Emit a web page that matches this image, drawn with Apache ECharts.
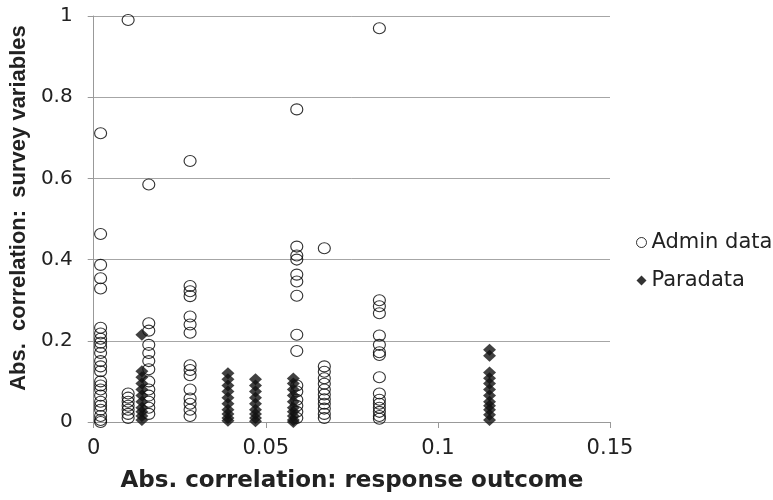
<!DOCTYPE html>
<html>
<head>
<meta charset="utf-8">
<script src="https://cdn.jsdelivr.net/npm/echarts@6/dist/echarts.min.js"></script>
<style>
  html, body { margin: 0; padding: 0; background: #fff; }
  #chart { width: 773px; height: 500px; }
</style>
</head>
<body>
<div id="chart"></div>
<script>
// x positions of the columns and the y values in each column
const adminX = [0.002, 0.010, 0.016, 0.028, 0.059, 0.067, 0.083];
const adminY = [
  [0.711, 0.463, 0.387, 0.354, 0.329, 0.232, 0.218, 0.205, 0.195, 0.185, 0.17, 0.15, 0.137, 0.125, 0.1, 0.09, 0.08, 0.065, 0.05, 0.04, 0.03, 0.015, 0.005, 0],
  [0.99, 0.07, 0.06, 0.05, 0.04, 0.03, 0.02, 0.01],
  [0.585, 0.243, 0.225, 0.19, 0.17, 0.15, 0.13, 0.1, 0.08, 0.065, 0.05, 0.035, 0.02],
  [0.643, 0.335, 0.322, 0.31, 0.26, 0.24, 0.22, 0.14, 0.128, 0.115, 0.08, 0.058, 0.045, 0.03, 0.015],
  [0.77, 0.432, 0.41, 0.4, 0.363, 0.346, 0.311, 0.215, 0.175, 0.09, 0.075, 0.055, 0.04, 0.025, 0.01],
  [0.428, 0.137, 0.124, 0.108, 0.094, 0.08, 0.068, 0.056, 0.045, 0.033, 0.02, 0.01],
  [0.97, 0.3, 0.285, 0.268, 0.213, 0.19, 0.172, 0.165, 0.11, 0.07, 0.055, 0.045, 0.035, 0.025, 0.015, 0.008],
];
const paraX = [0.014, 0.039, 0.047, 0.058, 0.115];
const paraY = [
  [0.215, 0.125, 0.11, 0.095, 0.08, 0.065, 0.05, 0.035, 0.025, 0.015, 0.005],
  [0.12, 0.105, 0.09, 0.075, 0.06, 0.045, 0.03, 0.02, 0.01, 0.003],
  [0.105, 0.09, 0.075, 0.06, 0.045, 0.03, 0.02, 0.01, 0.002],
  [0.107, 0.095, 0.08, 0.065, 0.05, 0.035, 0.025, 0.015, 0.005, 0],
  [0.178, 0.163, 0.122, 0.108, 0.095, 0.08, 0.065, 0.05, 0.04, 0.03, 0.018, 0.005],
];
const seriesNames = ["Admin data", "Paradata"];

function toPoints(xs, ys) {
  let pts = [];
  xs.forEach((x, i) => ys[i].forEach((y) => pts.push([x, y])));
  return pts;
}

//横向文字较宽，用 DejaVu Sans
const wideFont = "'DejaVu Sans', sans-serif";
const narrowFont = "'Liberation Sans', Arial, sans-serif";
const textColor = "#222";

let myChart = echarts.init(document.getElementById("chart"));
let option = {
  animation: false,
  textStyle: { fontFamily: wideFont },
  grid: { left: 91, top: 16, width: 519, height: 406 },
  legend: {
    orient: "vertical",
    left: 631,
    top: 227,
    itemGap: 17,
    itemWidth: 10,
    itemHeight: 10,
    textStyle: { fontFamily: wideFont, fontSize: 21, color: textColor },
    data: [
      { name: seriesNames[0], icon: "circle", itemStyle: { color: "#fff", borderColor: "#000", borderWidth: 1 } },
      { name: seriesNames[1], icon: "diamond", itemStyle: { color: "#000", borderWidth: 0 } },
    ],
  },
  xAxis: {
    type: "value",
    min: 0,
    max: 0.15,
    interval: 0.05,
    name: "Abs. correlation: response outcome",
    nameLocation: "middle",
    nameGap: 48,
    nameTextStyle: { fontFamily: wideFont, fontSize: 23, fontWeight: "bold", color: textColor },
    axisLine: { lineStyle: { color: "#999", width: 1 } },
    axisTick: { show: true, length: 6, lineStyle: { color: "#999" } },
    axisLabel: { fontFamily: wideFont, fontSize: 21, color: textColor, margin: 16 },
    splitLine: { show: false },
  },
  yAxis: {
    type: "value",
    min: 0,
    max: 1,
    interval: 0.2,
    name: "Abs.  correlation:  survey variables",
    nameLocation: "middle",
    nameGap: 59,
    nameTextStyle: {
      fontFamily: narrowFont,
      fontSize: 22,
      fontWeight: "bold",
      color: textColor,
      padding: [0, 0, 0, 22],
    },
    axisLine: { show: true, lineStyle: { color: "#999", width: 1 } },
    axisTick: { show: true, length: 6, lineStyle: { color: "#999" } },
    axisLabel: { fontFamily: wideFont, fontSize: 20, color: textColor, margin: 21 },
    splitLine: { show: true, lineStyle: { color: "#a6a6a6", width: 1 } },
  },
  series: [
    {
      name: seriesNames[0],
      type: "scatter",
      symbol: "circle",
      symbolSize: [12, 11],
      itemStyle: { color: "rgba(255,255,255,0)", borderColor: "#000", borderWidth: 1.1 },
      data: toPoints(adminX, adminY),
    },
    {
      name: seriesNames[1],
      type: "scatter",
      symbol: "diamond",
      symbolSize: [13, 12],
      itemStyle: { color: "#111", borderWidth: 0 },
      data: toPoints(paraX, paraY),
    },
  ],
};
myChart.setOption(option);
</script>
</body>
</html>
